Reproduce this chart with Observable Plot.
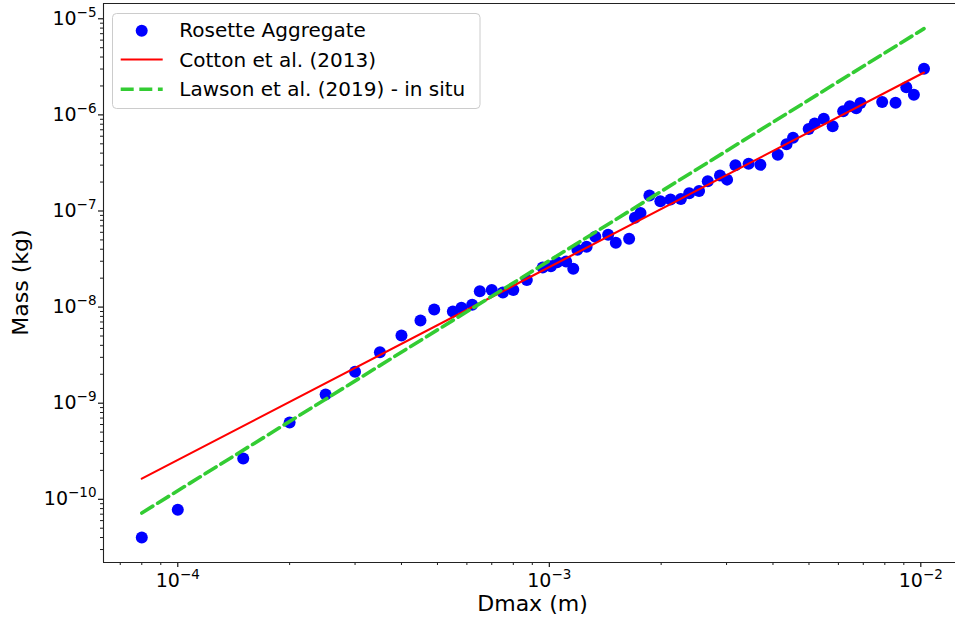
<!DOCTYPE html>
<html><head><meta charset="utf-8">
<script src="https://cdn.jsdelivr.net/npm/d3@7"></script>
<script src="https://cdn.jsdelivr.net/npm/@observablehq/plot@0.6"></script>
<style>
html,body{margin:0;padding:0;background:#fff;overflow:hidden}
svg{display:block}
</style></head><body><div id="chart"></div>
<script>
// ---- data ----
const dmax = [8.0e-5, 1.0e-4, 1.5e-4, 2.0e-4, 2.5e-4, 3.0e-4, 3.5e-4, 4.0e-4, 4.5e-4, 4.9e-4,
  5.5e-4, 5.8e-4, 6.2e-4, 6.5e-4, 7.0e-4, 7.5e-4, 8.0e-4, 8.7e-4, 9.6e-4, 1.01e-3,
  1.05e-3, 1.11e-3, 1.16e-3, 1.19e-3, 1.26e-3, 1.33e-3, 1.44e-3, 1.51e-3, 1.64e-3, 1.70e-3,
  1.76e-3, 1.86e-3, 1.99e-3, 2.12e-3, 2.26e-3, 2.38e-3, 2.53e-3, 2.67e-3, 2.88e-3, 3.01e-3,
  3.17e-3, 3.44e-3, 3.70e-3, 4.12e-3, 4.35e-3, 4.53e-3, 4.99e-3, 5.18e-3, 5.48e-3, 5.79e-3,
  6.18e-3, 6.44e-3, 6.70e-3, 6.88e-3, 7.87e-3, 8.55e-3, 9.14e-3, 9.58e-3, 1.02e-2];
const mass = [4.0e-11, 7.8e-11, 2.66e-10, 6.3e-10, 1.23e-9, 2.12e-9, 3.39e-9, 5.06e-9, 7.26e-9, 9.44e-9,
  9.0e-9, 9.83e-9, 1.06e-8, 1.46e-8, 1.51e-8, 1.42e-8, 1.51e-8, 1.91e-8, 2.58e-8, 2.66e-8,
  2.93e-8, 2.98e-8, 2.50e-8, 3.95e-8, 4.24e-8, 5.39e-8, 5.65e-8, 4.67e-8, 5.14e-8, 8.5e-8,
  9.53e-8, 1.45e-7, 1.26e-7, 1.32e-7, 1.33e-7, 1.53e-7, 1.61e-7, 2.04e-7, 2.34e-7, 2.12e-7,
  3.0e-7, 3.1e-7, 3.02e-7, 3.84e-7, 4.96e-7, 5.78e-7, 7.12e-7, 8.14e-7, 9.11e-7, 7.61e-7,
  1.09e-6, 1.23e-6, 1.17e-6, 1.33e-6, 1.36e-6, 1.34e-6, 1.94e-6, 1.62e-6, 3.02e-6];
const cottonD = [8.0e-5, 1.02e-2];
const cottonM = [1.64e-10, 2.76e-6];
const lawsonD = [8.0e-5, 1.02e-2];
const lawsonM = [7.2e-11, 7.9e-6];
const seriesNames = ["Rosette Aggregate", "Cotton et al. (2013)", "Lawson et al. (2019) - in situ"];
const xMajorTicks = [1e-4, 1e-3, 1e-2];
const xTickLabels = ["10−4", "10−3", "10−2"];
const xMinorTicks = [7e-5, 8e-5, 9e-5, 2e-4, 3e-4, 4e-4, 5e-4, 6e-4, 7e-4, 8e-4, 9e-4,
  2e-3, 3e-3, 4e-3, 5e-3, 6e-3, 7e-3, 8e-3, 9e-3];
const yMajorTicks = [1e-10, 1e-9, 1e-8, 1e-7, 1e-6, 1e-5];
const yTickLabels = ["10−10", "10−9", "10−8", "10−7", "10−6", "10−5"];
const yMinorTicks = [3e-11, 4e-11, 5e-11, 6e-11, 7e-11, 8e-11, 9e-11,
  2e-10, 3e-10, 4e-10, 5e-10, 6e-10, 7e-10, 8e-10, 9e-10,
  2e-9, 3e-9, 4e-9, 5e-9, 6e-9, 7e-9, 8e-9, 9e-9,
  2e-8, 3e-8, 4e-8, 5e-8, 6e-8, 7e-8, 8e-8, 9e-8,
  2e-7, 3e-7, 4e-7, 5e-7, 6e-7, 7e-7, 8e-7, 9e-7,
  2e-6, 3e-6, 4e-6, 5e-6, 6e-6, 7e-6, 8e-6, 9e-6];
const xDomain = [6.31e-5, 1.2398e-2];
const yDomain = [2.199e-11, 1.4425e-5];
const xTitle = "Dmax (m)";
const yTitle = "Mass (kg)";

// ---- tables ----
const points = dmax.map((d, i) => ({d, m: mass[i]}));
const cotton = cottonD.map((d, i) => ({d, m: cottonM[i]}));
const lawson = lawsonD.map((d, i) => ({d, m: lawsonM[i]}));
const xLab = new Map(xMajorTicks.map((t, i) => [t, xTickLabels[i]]));
const yLab = new Map(yMajorTicks.map((t, i) => [t, yTickLabels[i]]));

const W = 955, H = 619, ML = 103, MT = 3, MB = 57, MR = 0;
const blue = "#0000ff", red = "#ff0000", green = "#33cc33";

const chart = Plot.plot({
  width: W, height: H,
  marginLeft: ML, marginRight: MR, marginTop: MT, marginBottom: MB,
  style: {fontFamily: "DejaVu Sans, sans-serif", fontSize: "19px", color: "#000", background: "#fff"},
  x: {type: "log", domain: xDomain},
  y: {type: "log", domain: yDomain},
  marks: [
    Plot.axisX({ticks: xMinorTicks, tickSize: 3, tickFormat: () => "", label: null, strokeWidth: 0.9}),
    Plot.axisX({ticks: xMajorTicks, tickSize: 5, tickPadding: 6, tickFormat: d => xLab.get(d), label: null, strokeWidth: 1.1}),
    Plot.axisY({ticks: yMinorTicks, tickSize: 3, tickFormat: () => "", label: null, strokeWidth: 0.9}),
    Plot.axisY({ticks: yMajorTicks, tickSize: 5, tickPadding: 2, tickFormat: d => yLab.get(d), label: null, strokeWidth: 1.1}),
    Plot.dot(points, {x: "d", y: "m", r: 6, fill: blue, stroke: "none"}),
    Plot.line(cotton, {x: "d", y: "m", stroke: red, strokeWidth: 2.1}),
    Plot.line(lawson, {x: "d", y: "m", stroke: green, strokeWidth: 3.6, strokeDasharray: "13,5.6"}),
    Plot.ruleX([xDomain[0]], {stroke: "#222", strokeWidth: 1.1}),
    Plot.ruleY([yDomain[0], yDomain[1]], {stroke: "#222", strokeWidth: 1.1})
  ]
});
document.getElementById("chart").appendChild(chart);

// superscript exponents in tick labels (real text)
const svg = d3.select(chart);
svg.selectAll("text").each(function () {
  const t = this.textContent;
  if (/^10−\d+$/.test(t)) {
    const sel = d3.select(this);
    sel.text(null);
    sel.append("tspan").text("10");
    sel.append("tspan").attr("font-size", "13.5px").attr("dy", "-8").text(t.slice(2));
  }
});

// axis titles
svg.append("text").attr("x", (ML + 962) / 2).attr("y", 611).attr("text-anchor", "middle")
  .attr("font-size", "22px").attr("fill", "#000").text(xTitle);
svg.append("text").attr("transform", `translate(28,${(MT + H - MB) / 2}) rotate(-90)`)
  .attr("text-anchor", "middle").attr("font-size", "22px").attr("fill", "#000").text(yTitle);

// legend
const lg = svg.append("g").attr("font-size", "20px").attr("text-anchor", "start");
lg.append("rect").attr("x", 112.5).attr("y", 13.5).attr("width", 367.5).attr("height", 95)
  .attr("rx", 4).attr("fill", "#fff").attr("fill-opacity", 0.8).attr("stroke", "#cccccc").attr("stroke-width", 1);
lg.append("circle").attr("cx", 141.7).attr("cy", 30.7).attr("r", 6).attr("fill", blue);
lg.append("line").attr("x1", 120.7).attr("x2", 162.7).attr("y1", 59.5).attr("y2", 59.5).attr("stroke", red).attr("stroke-width", 2.1);
lg.append("line").attr("x1", 120.7).attr("x2", 162.7).attr("y1", 89.3).attr("y2", 89.3).attr("stroke", green)
  .attr("stroke-width", 3.6).attr("stroke-dasharray", "13,5.6");
[37, 66.5, 96.3].forEach((y, i) => {
  lg.append("text").attr("x", 179.3).attr("y", y).attr("text-anchor", "start").attr("fill", "#000").text(seriesNames[i]);
});
</script>
</body></html>
